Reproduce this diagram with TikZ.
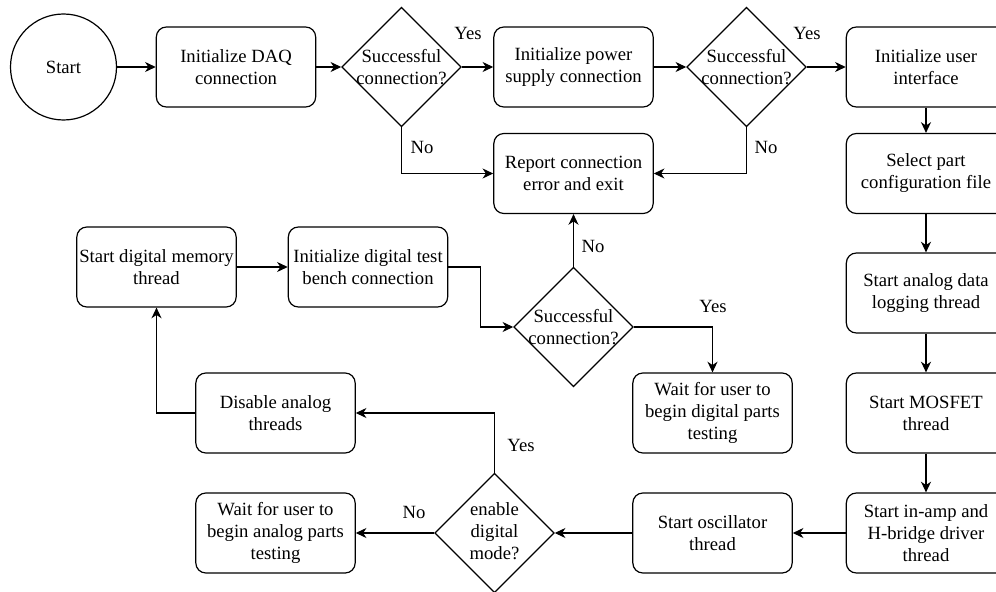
\documentclass[tikz,border=0pt]{standalone}
\usepackage{fontspec}
\setmainfont{Liberation Serif}
\newfontfamily\flowfont{Liberation Serif}
\usetikzlibrary{shapes.geometric,arrows.meta,calc}

\begin{document}
\begin{tikzpicture}[x=0.75pt,y=-0.75pt,
  txt/.style={font=\flowfont\fontsize{14}{16.5}\selectfont},
  box/.style={txt,draw,line width=0.9pt,rounded corners=7.5pt,
    minimum width=119.5pt,minimum height=60pt,align=center,inner sep=1pt},
  decision/.style={draw,line width=0.9pt,diamond,inner sep=0pt,
    minimum width=89.5pt,minimum height=89.5pt},
  dtext/.style={txt,align=center},
  startnode/.style={txt,draw,line width=0.9pt,circle,minimum size=79.5pt,inner sep=0pt},
  flow/.style={line width=0.9pt,-{Stealth[length=8pt,width=7.5pt,inset=2.5pt]}},
  lbl/.style={txt,inner sep=0pt}
]
\useasboundingbox (0,0) rectangle (996,592);

% main row
\node[startnode] (start) at (63.5,67) {Start};
\node[box] (daq) at (236,67) {Initialize DAQ\\connection};
\node[decision] (d1) at (401.5,67) {};
\node[dtext] (d1t) at (401.5,67) {Successful\\connection?};
\node[box] (power) at (573.5,67) {Initialize power\\supply connection};
\node[decision] (d2) at (746.5,67) {};
\node[dtext] (d2t) at (746.5,67) {Successful\\connection?};
\node[box] (ui) at (926,67) {Initialize user\\interface};

\node[box] (report) at (573.5,173.5) {Report connection\\error and exit};

% right column
\node[box] (select) at (926,173.5) {Select part\\configuration file};
\node[box] (analog) at (926,293) {Start analog data\\logging thread};
\node[box] (mosfet) at (926,413) {Start MOSFET\\thread};
\node[box] (inamp) at (926,533) {Start in-amp and\\H-bridge driver\\thread};

% bottom row
\node[box] (osc) at (712.5,533) {Start oscillator\\thread};
\node[decision] (d4) at (494.5,533) {};
\node[dtext] (d4t) at (494.5,531) {enable\\digital\\mode?};
\node[box] (waitA) at (275.5,533) {Wait for user to\\begin analog parts\\testing};
\node[box] (disable) at (275.5,413) {Disable analog\\threads};

% digital branch
\node[box] (memory) at (156.5,267) {Start digital memory\\thread};
\node[box] (bench) at (368,267) {Initialize digital test\\bench connection};
\node[decision] (d3) at (573.5,327) {};
\node[dtext] (d3t) at (573.5,327) {Successful\\connection?};
\node[box] (waitD) at (712.5,413) {Wait for user to\\begin digital parts\\testing};

% connectors
\draw[flow] (start) -- (daq);
\draw[flow] (daq) -- (d1.west);
\draw[flow] (d1.east) -- (power.west);
\draw[flow] (power) -- (d2.west);
\draw[flow] (d2.east) -- (ui.west);
\draw[flow] (d1.south) |- (report.west);
\draw[flow] (d2.south) |- (report.east);
\draw[flow] (ui) -- (select);
\draw[flow] (select) -- (analog);
\draw[flow] (analog) -- (mosfet);
\draw[flow] (mosfet) -- (inamp);
\draw[flow] (inamp) -- (osc);
\draw[flow] (osc) -- (d4.east);
\draw[flow] (d4.west) -- (waitA.east);
\draw[flow] (d4.north) |- (disable.east);
\draw[flow] (disable.west) -| (memory.south);
\draw[flow] (memory) -- (bench);
\draw[flow] (bench.east) -| ($(bench.east)!0.5!(d3.west)$) |- (d3.west);
\draw[flow] (d3.north) -- (report.south);
\draw[flow] (d3.east) -| (waitD.north);

% branch labels
\node[lbl] (y1) at (468,33) {Yes};
\node[lbl] (y2) at (807,33) {Yes};
\node[lbl] (n1) at (422,147) {No};
\node[lbl] (n2) at (766,147) {No};
\node[lbl] (n3) at (593,246) {No};
\node[lbl] (y3) at (713,306) {Yes};
\node[lbl] (y4) at (521,445) {Yes};
\node[lbl] (n4) at (414,512) {No};
\end{tikzpicture}
\end{document}
